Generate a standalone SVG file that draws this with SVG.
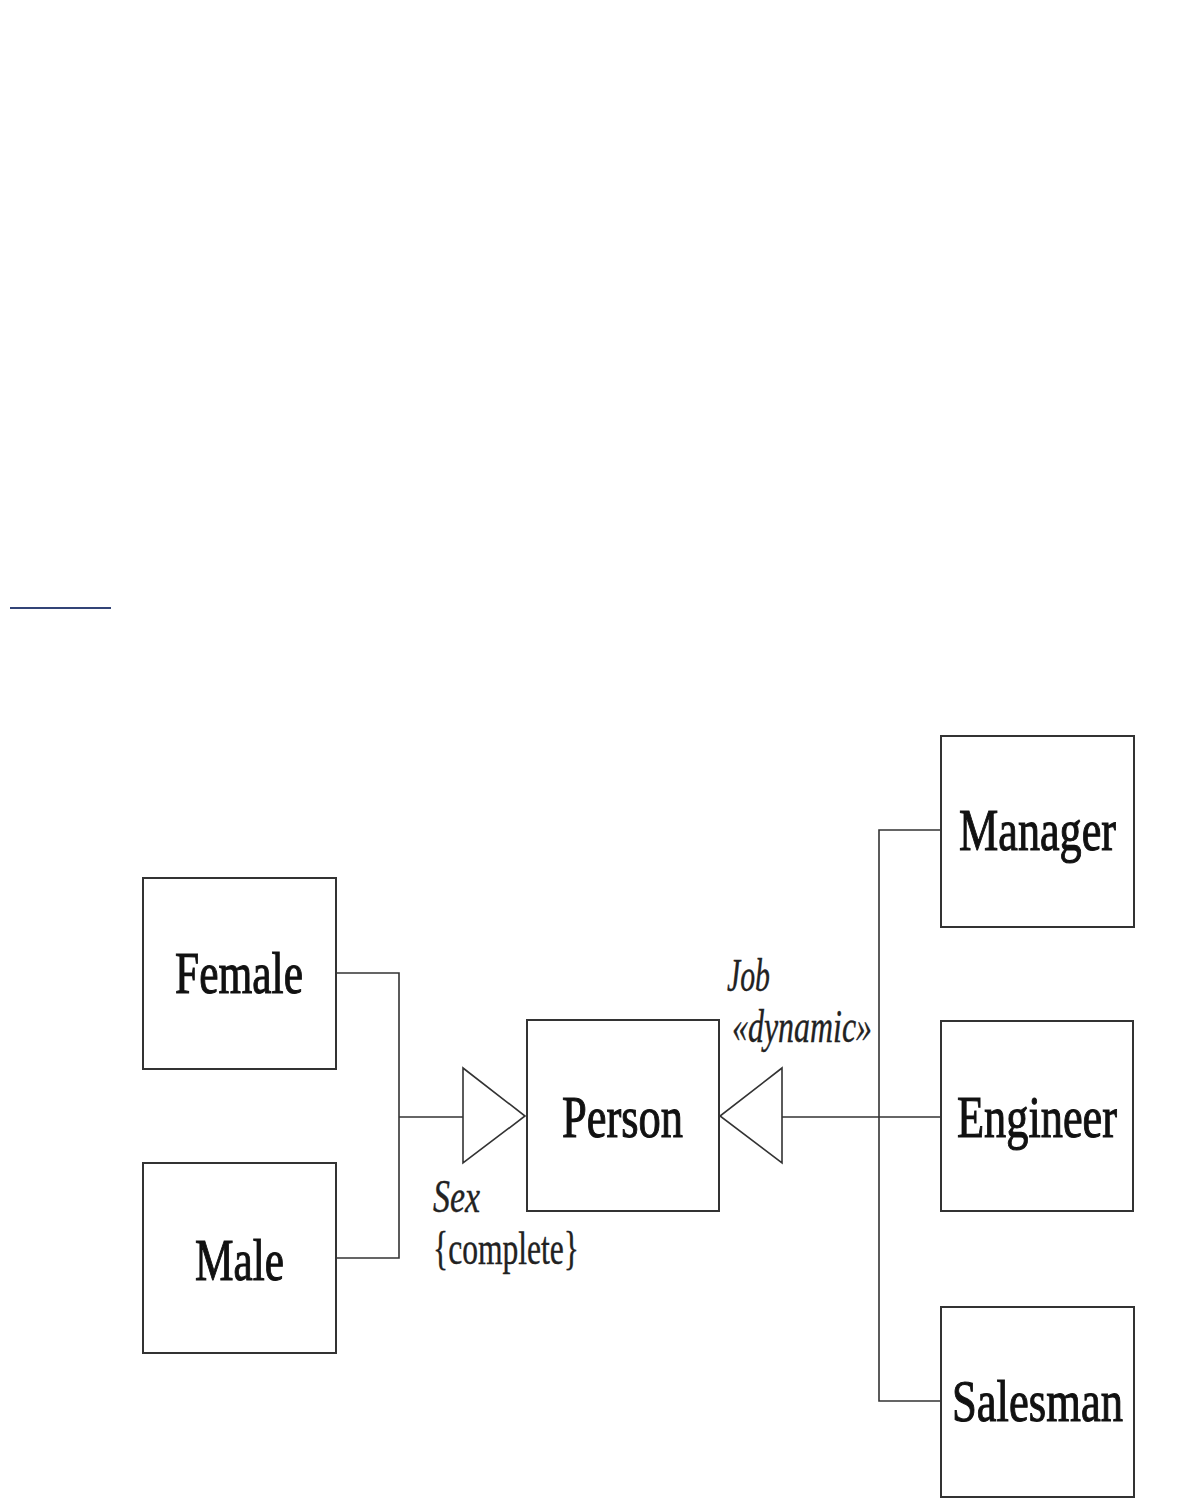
<svg xmlns="http://www.w3.org/2000/svg" width="1184" height="1505" viewBox="0 0 1184 1505">
<style>
.box{fill:#fff;stroke:#333;stroke-width:2}
.lbl{font-family:"Liberation Serif","Times New Roman",serif;font-size:60px;fill:#111;stroke:#111;stroke-width:1.1}
.note{font-family:"Liberation Serif","Times New Roman",serif;font-size:46px;fill:#222;stroke:#222;stroke-width:0.4}
.it{font-style:italic}
.conn{fill:none;stroke:#333;stroke-width:1.6}
.tri{fill:#fff;stroke:#333;stroke-width:1.6}
</style>
<rect width="1184" height="1505" fill="#fff"/>
<line x1="10" y1="608" x2="111" y2="608" stroke="#334477" stroke-width="2"/>
<g id="connectors">
<polyline class="conn" points="336,973 399,973 399,1258 336,1258"/>
<line class="conn" x1="399" y1="1117" x2="463" y2="1117"/>
<polygon class="tri" points="463,1068 525,1116 463,1163"/>
<polyline class="conn" points="941,830 879,830 879,1401 941,1401"/>
<line class="conn" x1="782" y1="1117" x2="941" y2="1117"/>
<polygon class="tri" points="782,1068 720,1116 782,1163"/>
<text class="note it" x="433" y="1212" textLength="47" lengthAdjust="spacingAndGlyphs">Sex</text>
<text class="note" x="433" y="1264" textLength="146" lengthAdjust="spacingAndGlyphs">{complete}</text>
<text class="note it" x="727" y="991" textLength="43" lengthAdjust="spacingAndGlyphs">Job</text>
<text class="note it" x="732" y="1042" textLength="140" lengthAdjust="spacingAndGlyphs">«dynamic»</text>
</g>
<g id="female"><rect class="box" x="143" y="878" width="193" height="191"/><text class="lbl" x="175" y="993" textLength="128" lengthAdjust="spacingAndGlyphs">Female</text></g>
<g id="male"><rect class="box" x="143" y="1163" width="193" height="190"/><text class="lbl" x="195" y="1280" textLength="89" lengthAdjust="spacingAndGlyphs">Male</text></g>
<g id="person"><rect class="box" x="527" y="1020" width="192" height="191"/><text class="lbl" x="562" y="1137" textLength="121" lengthAdjust="spacingAndGlyphs">Person</text></g>
<g id="manager"><rect class="box" x="941" y="736" width="193" height="191"/><text class="lbl" x="959" y="850" textLength="157" lengthAdjust="spacingAndGlyphs">Manager</text></g>
<g id="engineer"><rect class="box" x="941" y="1021" width="192" height="190"/><text class="lbl" x="957" y="1137" textLength="160" lengthAdjust="spacingAndGlyphs">Engineer</text></g>
<g id="salesman"><rect class="box" x="941" y="1307" width="193" height="190"/><text class="lbl" x="952" y="1421" textLength="171" lengthAdjust="spacingAndGlyphs">Salesman</text></g>
</svg>
